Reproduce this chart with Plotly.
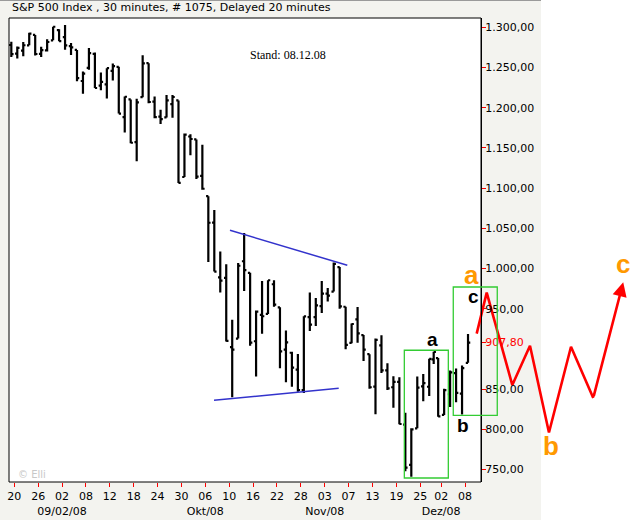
import plotly.graph_objects as go

# ---------------- data ----------------
dates = ["08-19", "08-20", "08-21", "08-22", "08-25", "08-26", "08-27", "08-28", "08-29",
         "09-02", "09-03", "09-04", "09-05", "09-08", "09-09", "09-10", "09-11", "09-12",
         "09-15", "09-16", "09-17", "09-18", "09-19", "09-22", "09-23", "09-24", "09-25",
         "09-26", "09-29", "09-30", "10-01", "10-02", "10-03", "10-06", "10-07", "10-08",
         "10-09", "10-10", "10-13", "10-14", "10-15", "10-16", "10-17", "10-20", "10-21",
         "10-22", "10-23", "10-24", "10-27", "10-28", "10-29", "10-30", "10-31", "11-03",
         "11-04", "11-05", "11-06", "11-07", "11-10", "11-11", "11-12", "11-13", "11-14",
         "11-17", "11-18", "11-19", "11-20", "11-21", "11-24", "11-25", "11-26", "11-28",
         "12-01", "12-02", "12-03", "12-04", "12-05", "12-08"]
session = [1] * 71 + [0.5] + [1] * 6  # 28 Nov was a half session

opens = [1278.0, 1267.3, 1271.1, 1277.6, 1290.5, 1267.0, 1271.3, 1283.8, 1296.5,
         1287.8, 1276.6, 1271.8, 1233.2, 1249.5, 1267.0, 1227.5, 1229.0, 1245.9,
         1250.9, 1188.3, 1210.3, 1157.1, 1213.1, 1255.4, 1207.6, 1188.8, 1187.9,
         1204.5, 1209.1, 1113.8, 1164.2, 1160.6, 1115.2, 1090.0, 1057.0, 988.9,
         988.4, 902.3, 912.8, 1009.0, 994.6, 909.5, 942.3, 943.5, 980.4,
         951.7, 899.1, 895.2, 874.3, 848.9, 939.5, 939.4, 953.1, 968.7,
         971.3, 1001.8, 952.4, 907.4, 936.8, 917.2, 893.4, 853.1, 904.4,
         873.2, 852.3, 859.0, 805.9, 755.8, 801.2, 853.4, 852.9, 886.9,
         888.6, 817.9, 843.6, 869.8, 844.4, 882.7]
highs = [1282.0, 1276.0, 1281.6, 1293.1, 1290.5, 1275.7, 1285.1, 1300.7, 1297.6,
         1303.0, 1280.6, 1271.8, 1244.9, 1274.4, 1268.7, 1243.9, 1249.1, 1255.1,
         1250.9, 1214.0, 1210.3, 1211.1, 1265.1, 1255.4, 1214.0, 1197.4, 1215.8,
         1215.8, 1209.1, 1168.0, 1167.0, 1160.6, 1153.8, 1090.0, 1072.9, 1021.1,
         1005.3, 936.4, 1006.9, 1044.3, 994.6, 947.7, 984.6, 985.4, 985.4,
         951.7, 922.8, 896.3, 893.8, 940.5, 970.0, 963.2, 984.4, 975.6,
         1007.5, 1001.8, 952.4, 931.5, 952.0, 917.2, 893.4, 913.0, 916.9,
         882.3, 865.9, 864.6, 820.5, 801.2, 865.6, 868.9, 887.7, 896.3,
         888.6, 850.5, 873.1, 875.6, 879.4, 918.6]
lows = [1263.2, 1261.2, 1264.0, 1277.6, 1264.9, 1263.2, 1270.0, 1283.8, 1282.7,
        1272.2, 1265.6, 1232.8, 1217.2, 1247.1, 1224.5, 1221.6, 1211.5, 1233.8,
        1192.7, 1169.3, 1155.9, 1133.5, 1213.1, 1205.6, 1187.0, 1179.8, 1187.9,
        1187.5, 1106.4, 1113.8, 1140.8, 1111.4, 1098.1, 1008.0, 996.2, 970.0,
        909.2, 839.8, 912.8, 972.1, 904.0, 865.8, 918.7, 943.5, 952.5,
        875.8, 858.4, 852.9, 846.8, 845.3, 922.3, 928.5, 944.6, 958.8,
        971.3, 949.9, 899.7, 906.9, 907.5, 884.9, 850.5, 818.7, 869.9,
        849.0, 826.8, 806.2, 747.8, 741.0, 801.2, 835.0, 841.4, 881.2,
        815.7, 817.9, 827.6, 833.6, 818.4, 882.7]
closes = [1266.7, 1274.5, 1277.7, 1292.2, 1266.8, 1271.5, 1281.7, 1300.7, 1282.8,
          1277.6, 1275.0, 1236.8, 1242.3, 1267.8, 1224.5, 1232.0, 1249.1, 1251.7,
          1192.7, 1213.6, 1156.4, 1206.5, 1255.1, 1207.1, 1188.2, 1185.9, 1209.2,
          1213.3, 1106.4, 1166.4, 1161.1, 1114.3, 1099.2, 1056.9, 996.2, 984.9,
          909.9, 899.2, 1003.4, 998.0, 907.8, 946.4, 940.6, 985.4, 955.1,
          896.8, 908.1, 876.8, 848.9, 940.5, 930.1, 954.1, 968.8, 966.3,
          1005.8, 952.8, 904.9, 931.0, 919.2, 899.0, 852.3, 911.3, 873.3,
          850.8, 859.1, 806.6, 752.4, 800.0, 851.8, 857.4, 887.7, 896.2,
          816.2, 848.8, 870.7, 845.2, 876.1, 907.8]

tick_days = ["08-20", "08-26", "09-02", "09-08", "09-12", "09-18", "09-24", "09-30",
             "10-06", "10-10", "10-16", "10-22", "10-28", "11-03", "11-07", "11-13",
             "11-19", "11-25", "12-02", "12-08"]
tick_labels = ["20", "26", "02<br>09/02/08", "08", "12", "18", "24", "30",
               "06<br>Okt/08", "10", "16", "22", "28", "03<br>Nov/08", "07", "13",
               "19", "25", "02<br>Dez/08", "08"]

y_ticks = [750, 800, 850, 907.8, 950, 1000, 1050, 1100, 1150, 1200, 1250, 1300]
y_labels = ["750,00", "800,00", "850,00", "<span style='color:#ff0000'>907,80</span>",
            "950,00", "1.000,00", "1.050,00", "1.100,00", "1.150,00", "1.200,00",
            "1.250,00", "1.300,00"]

# hand-drawn annotations (trading-day index, price)
upper_trend = [(36.13, 1047.5), (55.78, 1004.0)]
lower_trend = [(33.45, 836.1), (54.34, 851.0)]
box_1 = [(65.33, 739.4), (72.70, 898.3)]
box_2 = [(73.53, 817.4), (80.90, 977.0)]
proj_x = [77.45, 79.13, 83.42, 86.38, 89.56, 93.25, 96.98, 102.0]
proj_y = [919.0, 970.0, 855.0, 904.0, 796.0, 902.7, 839.0, 983.0]
black_labels = [("a", 70.05, 911.1), ("b", 75.24, 805.3), ("c", 77.0, 965.2)]
orange_labels = [("a", 76.6, 991.9), ("b", 89.82, 779.2), ("c", 102.04, 1005.6)]

# ---------------- geometry ----------------
W, H = 643, 520
starts, s = [], -1.0
for w in session:
    starts.append(s)
    s += w
centers = [st + w / 2 for st, w in zip(starts, session)]
tickvals = [starts[dates.index(d)] for d in tick_days]

PX_DAY0, PX_PER_DAY = 14.3, 5.97           # x pixel of 20 Aug, pixels per day
PY_1300, PY_PER_PT = 27.3, 0.804           # y pixel of 1300, pixels per point
PLOT_L, PLOT_R, PLOT_T, PLOT_B = 9, 481, 18, 482
x_range = [(0 - PX_DAY0) / PX_PER_DAY, (W - PX_DAY0) / PX_PER_DAY]
y_range = [1300 - (PLOT_B - PY_1300) / PY_PER_PT, 1300 - (PLOT_T - PY_1300) / PY_PER_PT]

font = "DejaVu Sans, Verdana, sans-serif"

fig = go.Figure()
fig.add_trace(go.Ohlc(
    x=centers, open=opens, high=highs, low=lows, close=closes,
    increasing=dict(line=dict(color="black", width=2.2)),
    decreasing=dict(line=dict(color="black", width=2.2)),
    tickwidth=0.5, hoverinfo="skip", showlegend=False))

fig.add_trace(go.Scatter(
    x=proj_x[:-1], y=proj_y[:-1], mode="lines",
    line=dict(color="#ff0000", width=2.6), hoverinfo="skip", showlegend=False))

shapes = [
    dict(type="rect", xref="paper", yref="paper", x0=0, x1=541 / W, y0=0, y1=1,
         fillcolor="#f3f3ef", line=dict(width=0), layer="below"),
    dict(type="line", xref="paper", yref="paper", x0=0, x1=541 / W, y0=1, y1=1,
         line=dict(color="#9a9a9a", width=2), layer="below"),
    dict(type="rect", xref="paper", yref="paper", x0=PLOT_L / W, x1=PLOT_R / W,
         y0=1 - PLOT_B / H, y1=1 - PLOT_T / H, fillcolor="white",
         line=dict(color="black", width=1), layer="below"),
]
for (xa, ya), (xb, yb) in (upper_trend, lower_trend):
    shapes.append(dict(type="line", xref="x", yref="y", x0=xa, y0=ya, x1=xb, y1=yb,
                       line=dict(color="#3333cc", width=1.5)))
for (xa, ya), (xb, yb) in (box_1, box_2):
    shapes.append(dict(type="rect", xref="x", yref="y", x0=xa, y0=ya, x1=xb, y1=yb,
                       line=dict(color="#33cc33", width=1.3)))

annotations = [
    dict(xref="paper", yref="paper", x=10 / W, y=1 - 8 / H, xanchor="left",
         yanchor="middle", showarrow=False,
         text="S&P 500 Index , 30 minutes, # 1075, Delayed 20 minutes",
         font=dict(family=font, size=11, color="black")),
    dict(xref="paper", yref="paper", x=248 / W, y=1 - 55 / H, xanchor="left",
         yanchor="middle", showarrow=False, text="Stand: 08.12.08",
         font=dict(family="Liberation Serif, Times New Roman, serif", size=12,
                   color="black")),
    dict(xref="paper", yref="paper", x=16 / W, y=1 - 474 / H, xanchor="left",
         yanchor="middle", showarrow=False, text="© Elli",
         font=dict(family=font, size=10, color="#c8c8c8")),
    dict(xref="x", yref="y", axref="x", ayref="y", x=proj_x[-1], y=proj_y[-1],
         ax=proj_x[-2], ay=proj_y[-2], showarrow=True, arrowhead=2, arrowsize=1.1,
         arrowwidth=2.6, arrowcolor="#ff0000", text=""),
]
for t, xv, yv in black_labels:
    annotations.append(dict(xref="x", yref="y", x=xv, y=yv, text="<b>" + t + "</b>",
                            showarrow=False,
                            font=dict(family="Liberation Sans, Arial, sans-serif",
                                      size=19, color="black"),
                            xanchor="center", yanchor="middle"))
for t, xv, yv in orange_labels:
    annotations.append(dict(xref="x", yref="y", x=xv, y=yv, text="<b>" + t + "</b>",
                            showarrow=False,
                            font=dict(family="Liberation Sans, Arial, sans-serif",
                                      size=26, color="#ff9900"),
                            xanchor="center", yanchor="middle"))

fig.update_layout(
    width=W, height=H, margin=dict(l=0, r=0, t=0, b=0),
    paper_bgcolor="white", plot_bgcolor="rgba(0,0,0,0)",
    showlegend=False, shapes=shapes, annotations=annotations,
    xaxis=dict(domain=[0, 1], range=x_range, showgrid=False, zeroline=False,
               showline=False, rangeslider=dict(visible=False),
               tickmode="array", tickvals=tickvals, ticktext=tick_labels,
               tickangle=0, ticks="outside", ticklen=4, tickcolor="#ff0000",
               tickwidth=1, tickfont=dict(family=font, size=11, color="black"),
               fixedrange=True),
    yaxis=dict(domain=[1 - PLOT_B / H, 1 - PLOT_T / H], range=y_range,
               anchor="free", position=PLOT_R / W, side="right",
               showgrid=False, zeroline=False, showline=True, linecolor="black",
               linewidth=1, tickmode="array", tickvals=y_ticks, ticktext=y_labels,
               ticks="outside", ticklen=4, tickcolor="#ff0000", tickwidth=1,
               ticklabelstandoff=-3,
               tickfont=dict(family=font, size=11, color="black"), fixedrange=True),
)

fig.write_html("out.html", config={"displayModeBar": False},
               post_script="document.body.style.margin='0';"
                           "document.body.style.padding='0';")
